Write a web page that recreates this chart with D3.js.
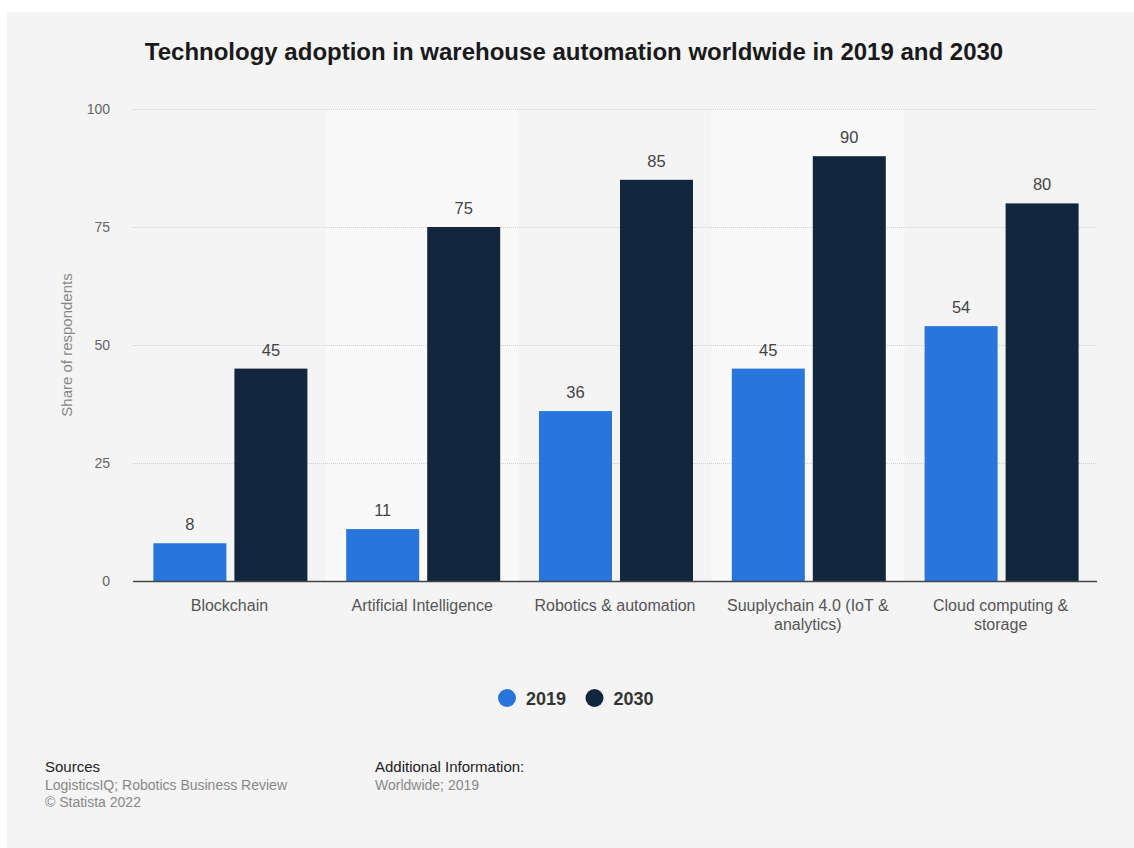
<!DOCTYPE html>
<html><head><meta charset="utf-8">
<script src="https://cdn.jsdelivr.net/npm/d3@7"></script>
<style>
html,body{margin:0;padding:0;background:#fff;}
svg{display:block;font-family:"Liberation Sans",Arial,sans-serif;}
</style></head>
<body>
<script>
const categories = [["Blockchain"],["Artificial Intelligence"],["Robotics & automation"],["Suuplychain 4.0 (IoT &","analytics)"],["Cloud computing &","storage"]];
const seriesNames = ["2019","2030"];
const values2019 = [8,11,36,45,54];
const values2030 = [45,75,85,90,80];
const yTicks = [0,25,50,75,100];
const colors = ["#2876dd","#12263d"];

const W=1134,H=848;
const svg=d3.select("body").append("svg").attr("width",W).attr("height",H);
svg.append("rect").attr("x",7).attr("y",12).attr("width",W-7).attr("height",H-12).attr("fill","#f4f4f4");

const m={left:133,right:1097,top:109,bottom:581};
const x=d3.scaleBand().domain(d3.range(categories.length)).range([m.left,m.right]).padding(0);
const y=d3.scaleLinear().domain([0,100]).range([m.bottom,m.top]);

// alternating bands
svg.selectAll("rect.band").data(d3.range(categories.length).filter(i=>i%2===1)).enter()
 .append("rect").attr("x",i=>x(i)).attr("y",m.top).attr("width",x.bandwidth()).attr("height",m.bottom-m.top).attr("fill","#f9f9f9");

// gridlines
svg.selectAll("line.grid").data(yTicks.filter(t=>t>0)).enter().append("line")
 .attr("x1",m.left).attr("x2",m.right).attr("y1",d=>y(d)+0.5).attr("y2",d=>y(d)+0.5)
 .attr("stroke","#cfcfcf").attr("stroke-width",1).attr("stroke-dasharray","1,1");

// y tick labels
svg.selectAll("text.yt").data(yTicks).enter().append("text")
 .attr("x",110).attr("y",d=>y(d)+5).attr("text-anchor","end")
 .attr("font-size",14).attr("fill","#666").text(d=>d);

svg.append("text").attr("transform","translate(72,345) rotate(-90)").attr("text-anchor","middle")
 .attr("font-size",15).attr("fill","#888").text("Share of respondents");

const bw=73, gap=8;
const sub=d3.scaleBand().domain([0,1]).range([0,bw*2+gap]).paddingInner(gap/(bw+gap)).paddingOuter(0);
const series=[values2019,values2030];
series.forEach((vals,s)=>{
  const g=svg.append("g");
  g.selectAll("rect").data(vals).enter().append("rect")
   .attr("x",(d,i)=>x(i)+x.bandwidth()/2-(bw*2+gap)/2+1+sub(s))
   .attr("y",d=>y(d)).attr("width",sub.bandwidth()).attr("height",d=>y(0)-y(d))
   .attr("fill",colors[s]);
  g.selectAll("text").data(vals).enter().append("text")
   .attr("x",(d,i)=>x(i)+x.bandwidth()/2-(bw*2+gap)/2+1+sub(s)+sub.bandwidth()/2)
   .attr("y",d=>y(d)-13).attr("text-anchor","middle").attr("font-size",16.5).attr("fill","#444").text(d=>d);
});

// baseline
svg.append("line").attr("x1",m.left).attr("x2",m.right).attr("y1",m.bottom+0.5).attr("y2",m.bottom+0.5)
 .attr("stroke","#444").attr("stroke-width",1.6);

// category labels
categories.forEach((lines,i)=>{
  const t=svg.append("text").attr("text-anchor","middle").attr("font-size",16).attr("fill","#555");
  lines.forEach((l,j)=>t.append("tspan").attr("x",x(i)+x.bandwidth()/2).attr("y",611+j*19).text(l));
});

// title
svg.append("text").attr("x",574).attr("y",60).attr("text-anchor","middle").attr("font-size",24)
 .attr("font-weight","bold").attr("fill","#1a1a1a").text("Technology adoption in warehouse automation worldwide in 2019 and 2030");

// legend
const legX=[507,594.5];
seriesNames.forEach((n,i)=>{
  svg.append("circle").attr("cx",legX[i]).attr("cy",698).attr("r",9).attr("fill",colors[i]);
  svg.append("text").attr("x",legX[i]+19).attr("y",704.5).attr("font-size",18).attr("font-weight","bold").attr("fill","#333").text(n);
});

// footer
svg.append("text").attr("x",45).attr("y",772).attr("font-size",15).attr("fill","#222").text("Sources");
svg.append("text").attr("x",45).attr("y",790).attr("font-size",14).attr("fill","#888").text("LogisticsIQ; Robotics Business Review");
svg.append("text").attr("x",45).attr("y",807).attr("font-size",14).attr("fill","#888").text("© Statista 2022");
svg.append("text").attr("x",375).attr("y",772).attr("font-size",15).attr("fill","#222").text("Additional Information:");
svg.append("text").attr("x",375).attr("y",790).attr("font-size",14).attr("fill","#888").text("Worldwide; 2019");
</script>
</body></html>
